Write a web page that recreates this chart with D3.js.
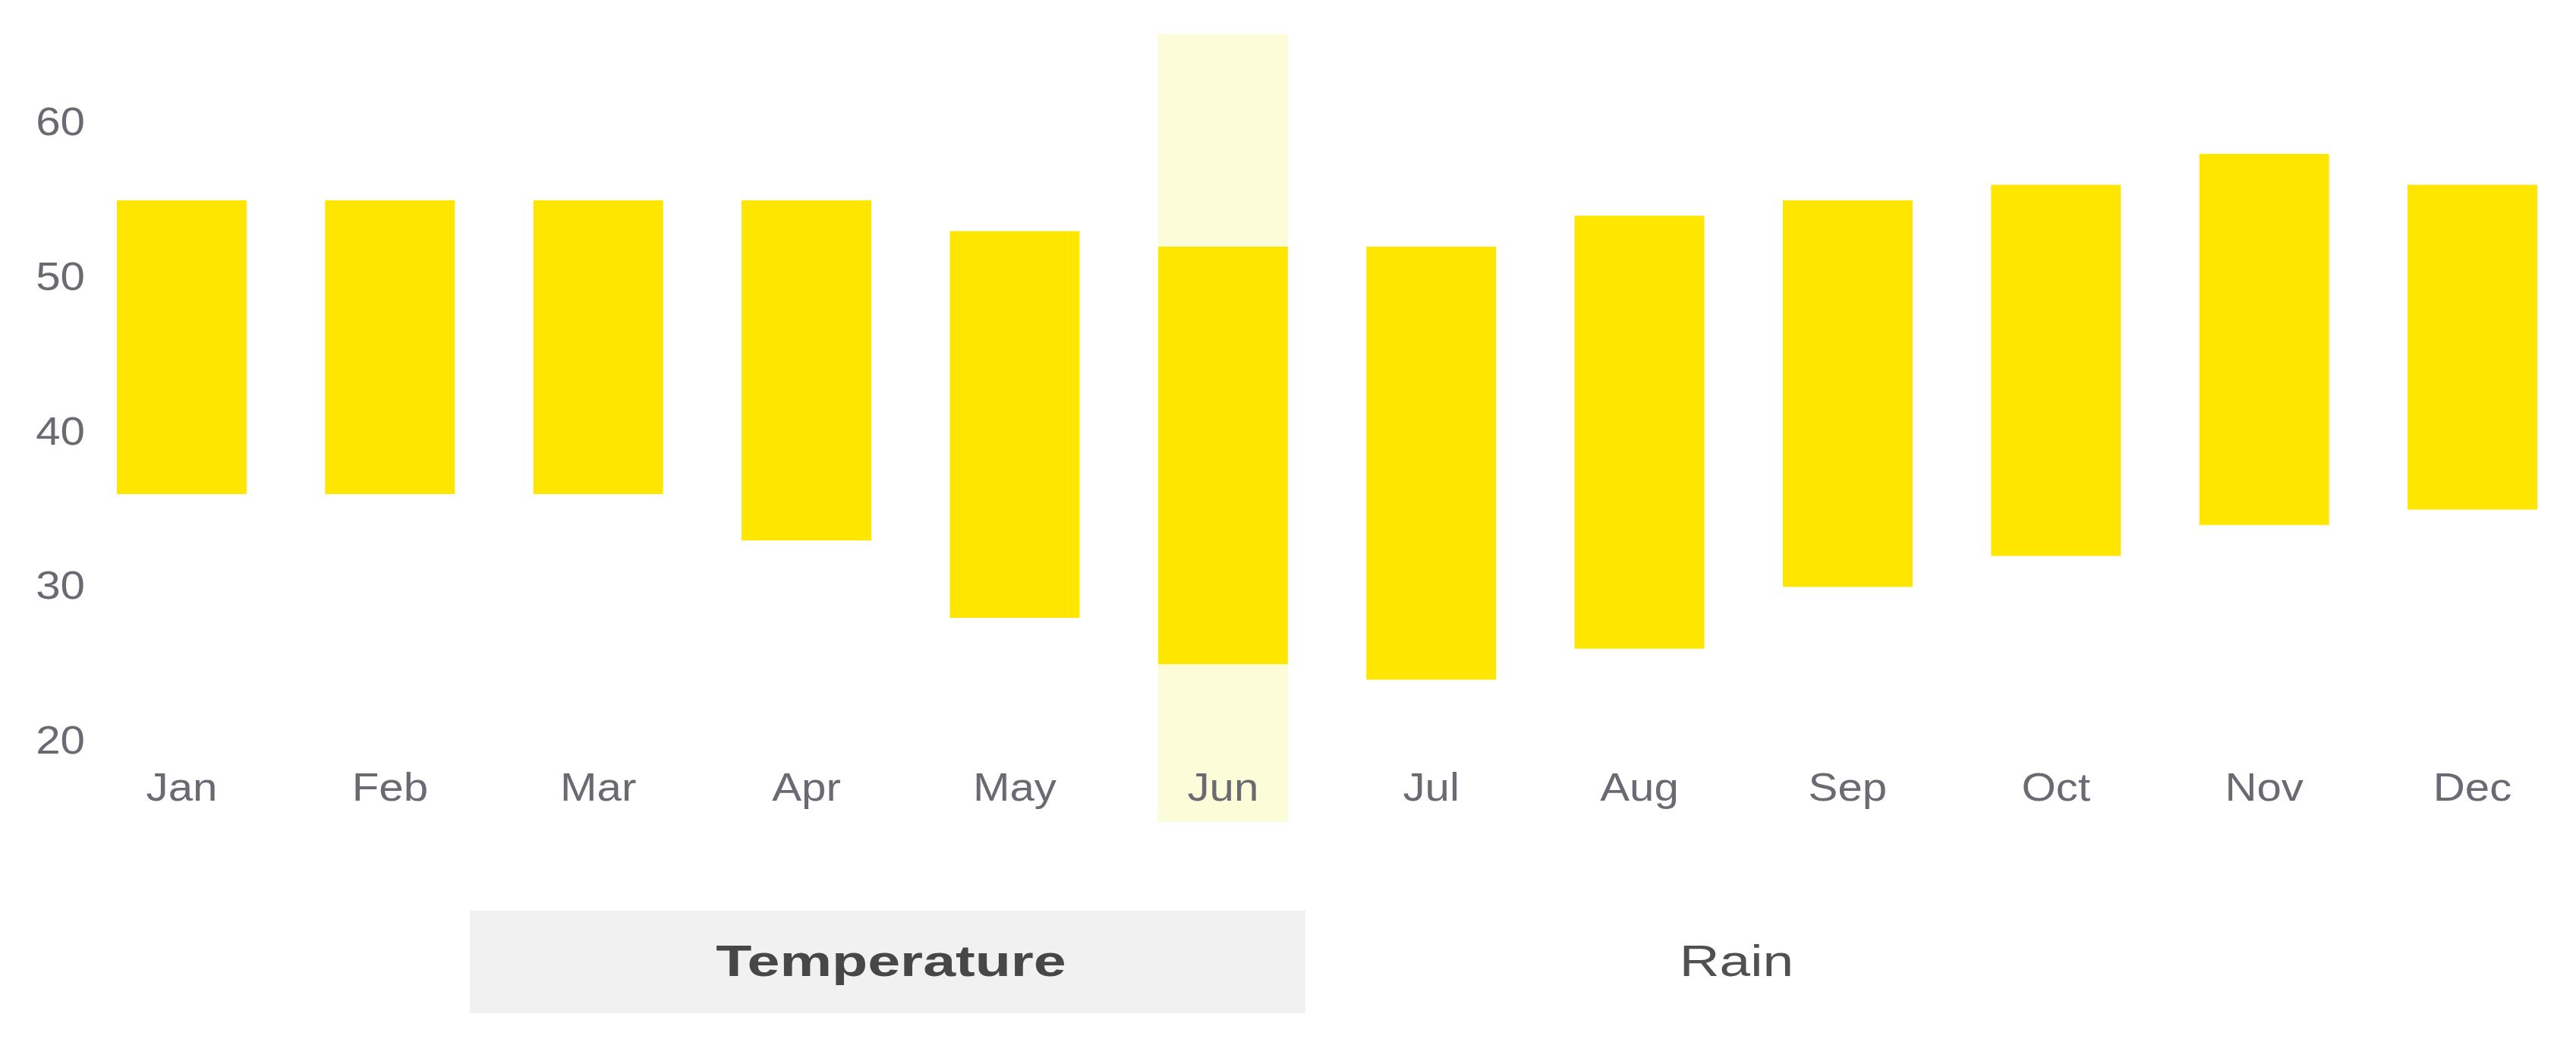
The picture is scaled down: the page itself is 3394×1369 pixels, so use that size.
<!DOCTYPE html>
<html>
<head>
<meta charset="utf-8">
<script src="https://cdn.jsdelivr.net/npm/d3@7"></script>
<style>
  html, body { margin: 0; padding: 0; background: #ffffff; }
  svg { display: block; }
  text { font-family: "Liberation Sans", Arial, sans-serif; }
</style>
</head>
<body>
<svg id="chart" width="3394" height="1369"></svg>
<script>
// ---- data ----
const months = ["Jan","Feb","Mar","Apr","May","Jun","Jul","Aug","Sep","Oct","Nov","Dec"];
const lows   = [36, 36, 36, 33, 28, 25, 24, 26, 30, 32, 34, 35];
const highs  = [55, 55, 55, 55, 53, 52, 52, 54, 55, 56, 58, 56];
const yTicks = [20, 30, 40, 50, 60];
const highlightMonth = "Jun";
const tabs = ["Temperature", "Rain"];
const activeTab = "Temperature";

// ---- layout ----
const W = 3394, H = 1369;
const svg = d3.select("#chart");

const x = d3.scaleBand()
  .domain(months)
  .range([154, 3343])
  .paddingInner(0.377)
  .paddingOuter(0);

const y = d3.scaleLinear()
  .domain([20, 60])
  .range([977, 162]);

const bandTop = 45, bandBottom = 1083;

const rows = months.map((m, i) => ({ month: m, low: lows[i], high: highs[i] }));

// highlight band
svg.append("rect")
  .attr("x", x(highlightMonth))
  .attr("y", bandTop)
  .attr("width", x.bandwidth())
  .attr("height", bandBottom - bandTop)
  .attr("fill", "#fdfcd8");

// bars
svg.append("g").selectAll("rect")
  .data(rows)
  .join("rect")
  .attr("x", d => x(d.month))
  .attr("y", d => y(d.high))
  .attr("width", x.bandwidth())
  .attr("height", d => y(d.low) - y(d.high))
  .attr("fill", "#ffe600");

// y axis
const yAxis = svg.append("g")
  .attr("transform", "translate(112,0)")
  .call(d3.axisLeft(y).tickValues(yTicks).tickSize(0).tickPadding(0));
yAxis.select(".domain").remove();
yAxis.selectAll("text")
  .attr("font-family", "Liberation Sans, Arial, sans-serif")
  .attr("font-size", 52)
  .attr("fill", "#6a6a72")
  .attr("dy", "0.30em");

// x axis
const xAxis = svg.append("g")
  .attr("transform", "translate(0,1055)")
  .call(d3.axisBottom(x).tickSize(0).tickPadding(0));
xAxis.select(".domain").remove();
xAxis.selectAll("text")
  .attr("font-family", "Liberation Sans, Arial, sans-serif")
  .attr("font-size", 52)
  .attr("fill", "#6a6a72")
  .attr("dy", 0);

// stretch axis labels slightly horizontally (reference glyphs are wider)
function stretch(sel, factor) {
  sel.each(function () {
    const w = this.getComputedTextLength();
    d3.select(this)
      .attr("textLength", w * factor)
      .attr("lengthAdjust", "spacingAndGlyphs");
  });
}
stretch(yAxis.selectAll("text"), 1.12);
stretch(xAxis.selectAll("text"), 1.12);

// tabs
const tabX = d3.scaleBand().domain(tabs).range([619, 1720 + 1101]);
const tabG = svg.append("g");
tabG.selectAll("rect")
  .data(tabs.filter(t => t === activeTab))
  .join("rect")
  .attr("x", d => tabX(d))
  .attr("y", 1200)
  .attr("width", tabX.bandwidth())
  .attr("height", 135)
  .attr("fill", "#f1f1f1");

const tabTextCenters = { "Temperature": 1174, "Rain": 2288 };
const tabLabels = tabG.selectAll("text")
  .data(tabs)
  .join("text")
  .attr("x", d => tabTextCenters[d])
  .attr("y", 1286)
  .attr("text-anchor", "middle")
  .attr("font-size", 58)
  .attr("font-weight", d => d === activeTab ? "bold" : "normal")
  .attr("fill", d => d === activeTab ? "#474747" : "#505050")
  .text(d => d);
tabLabels.each(function (d) {
  const w = this.getComputedTextLength();
  d3.select(this)
    .attr("textLength", w * (d === activeTab ? 1.33 : 1.26))
    .attr("lengthAdjust", "spacingAndGlyphs");
});
</script>
</body>
</html>
